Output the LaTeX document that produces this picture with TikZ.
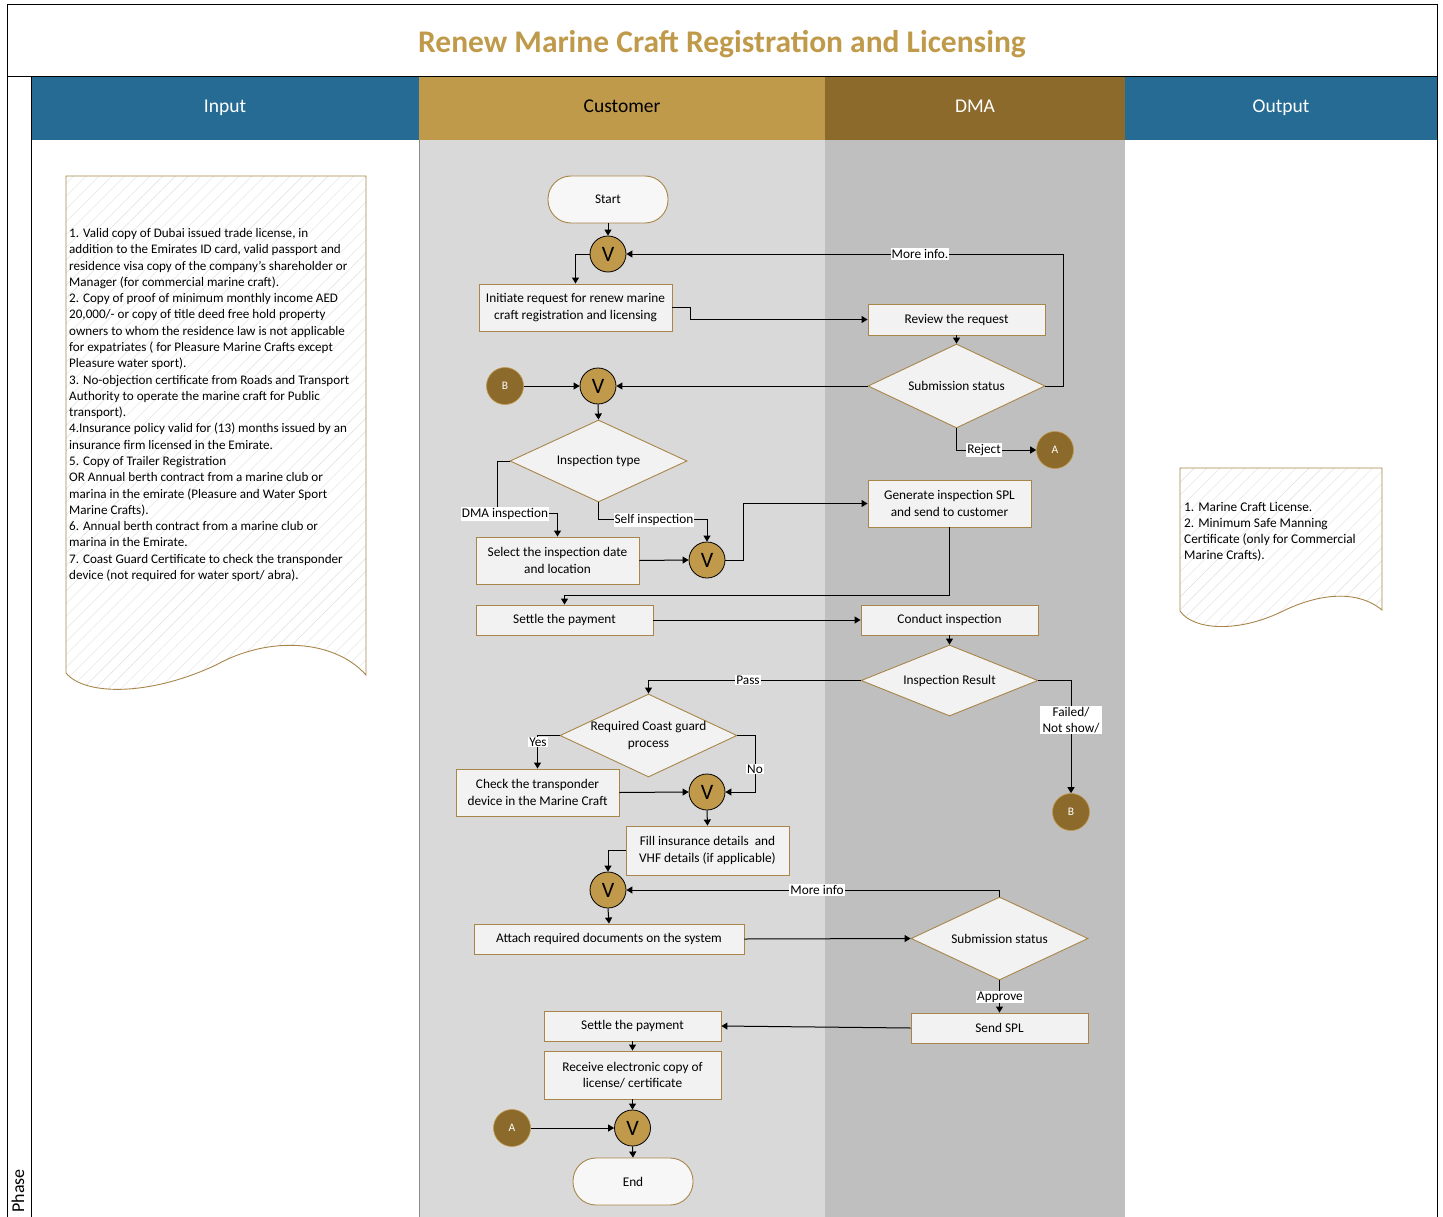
\documentclass[tikz,border=0pt]{standalone}
\usepackage{fontspec}
\setmainfont{Carlito}
\usetikzlibrary{shapes.geometric,arrows.meta,calc,patterns.meta}
\definecolor{hblue}{HTML}{266B94}
\definecolor{hgold}{HTML}{C09A4B}
\definecolor{hbrown}{HTML}{8C6A2C}
\definecolor{lanec}{HTML}{D9D9D9}
\definecolor{laned}{HTML}{BFBFBF}
\definecolor{boxfill}{HTML}{F2F2F2}
\definecolor{boxbd}{HTML}{A8864A}
\definecolor{vfill}{HTML}{C0994A}
\newcommand\nf{\fontsize{13.3}{16.5}\selectfont}
\begin{document}
\begin{tikzpicture}[x=1pt,y=-1pt,
  box/.style={rectangle, draw=boxbd, line width=0.9pt, fill=boxfill, inner sep=0pt, align=center, font=\nf},
  term/.style={rectangle, rounded corners=23pt, draw=boxbd, fill=boxfill!60!white, line width=0.9pt, minimum width=120pt, minimum height=47pt, font=\nf},
  dec/.style={diamond, draw=boxbd, fill=boxfill, line width=0.9pt, inner sep=0pt, minimum width=177pt},
  vnode/.style={circle, draw=black, line width=0.8pt, fill=vfill, minimum size=36pt, inner sep=0pt, font=\fontsize{22}{24}\selectfont},
  conn/.style={circle, draw=hgold, line width=0.6pt, fill=hbrown, minimum size=37pt, inner sep=0pt, text=white, font=\fontsize{11.5}{13}\selectfont},
  lbl/.style={fill=white, inner sep=1pt, font=\nf, align=center},
  arr/.style={-{Triangle[length=6pt,width=7pt]}, line width=1pt},
  doc/.style={draw=boxbd, line width=0.9pt, pattern={Lines[angle=45,distance=9pt,line width=0.4pt]}, pattern color=black!13},
  hdr/.style={font=\fontsize{19.5}{22}\selectfont, text height=13pt, text depth=4pt, inner sep=0pt}
]
\useasboundingbox (0,0) rectangle (1443,1217);
% lanes
\fill[lanec] (419,140) rectangle (825,1217);
\fill[laned] (825,140) rectangle (1125,1217);
\draw[line width=1pt] (7,77) -- (1437,77);
\fill[hblue] (31,77) rectangle (419,140);
\fill[hgold] (419,77) rectangle (825,140);
\fill[hbrown] (825,77) rectangle (1125,140);
\fill[hblue] (1125,77) rectangle (1437,140);
\draw[black!45, line width=0.6pt] (419,140) -- (419,1217);
\draw[line width=1pt] (7,1217) -- (7,5) -- (1437,5) -- (1437,1217);
\draw[line width=1pt] (31,77) -- (31,1217);
% titles
\node[font=\fontsize{31.5}{34}\selectfont\bfseries, text=hgold] (title) at (722,44) {Renew Marine Craft Registration and Licensing};
\node[hdr, text=white] (hin) at (225,108.5) {Input};
\node[hdr, text=black] (hcu) at (622,108.5) {Customer};
\node[hdr, text=white] (hdma) at (975,108.5) {DMA};
\node[hdr, text=white] (hout) at (1281,108.5) {Output};
\node[rotate=90, font=\fontsize{18}{20}\selectfont] (phase) at (18,1191) {Phase};
% documents
\path[doc] (66,176) -- (366,176) -- (366,675) .. controls (335,640) and (270,635) .. (216,665) .. controls (150,696) and (85,696) .. (66,673) -- cycle;
\node[anchor=west, align=left, font=\fontsize{13.1}{16.29}\selectfont, inner sep=0pt] (intext) at (69,405) {1. Valid copy of Dubai issued trade license, in\\
addition to the Emirates ID card, valid passport and\\
residence visa copy of the company’s shareholder or\\
Manager (for commercial marine craft).\\
2. Copy of proof of minimum monthly income AED\\
20,000/- or copy of title deed free hold property\\
owners to whom the residence law is not applicable\\
for expatriates ( for Pleasure Marine Crafts except\\
Pleasure water sport).\\
3. No-objection certificate from Roads and Transport\\
Authority to operate the marine craft for Public\\
transport).\\
4.Insurance policy valid for (13) months issued by an\\
insurance firm licensed in the Emirate.\\
5. Copy of Trailer Registration\\
OR Annual berth contract from a marine club or\\
marina in the emirate (Pleasure and Water Sport\\
Marine Crafts).\\
6. Annual berth contract from a marine club or\\
marina in the Emirate.\\
7. Coast Guard Certificate to check the transponder\\
device (not required for water sport/ abra).};
\path[doc] (1180,468) -- (1382,468) -- (1382,610) .. controls (1355,588) and (1315,595) .. (1281,612) .. controls (1237,633) and (1193,630) .. (1180,611) -- cycle;
\node[anchor=west, align=left, font=\fontsize{13.3}{16.1}\selectfont, inner sep=0pt] (outtext) at (1184,532) {1. Marine Craft License.\\
2. Minimum Safe Manning\\
Certificate (only for Commercial\\
Marine Crafts).};
% nodes
\node[term] (start) at (608,199.5) {Start};
\node[vnode] (v1) at (608,254) {V};
\node[box, minimum width=193pt, minimum height=47pt] (ini) at (575.5,307.5) {Initiate request for renew marine\\craft registration and licensing};
\node[box, minimum width=177pt, minimum height=31pt] (rev) at (956.5,319.5) {Review the request};
\node[dec, minimum height=84pt, label={[font=\nf]center:Submission status}] (sub1) at (956.5,386) {};
\node[conn] (b1) at (505,386) {B};
\node[vnode] (v2) at (598,386) {V};
\node[dec, minimum height=82pt, label={[font=\nf]center:Inspection type}] (it) at (598.5,461) {};
\node[conn] (a1) at (1055,450) {A};
\node[box, minimum width=163pt, minimum height=47pt] (sel) at (557.5,560.5) {Select the inspection date\\and location};
\node[vnode] (v3) at (707,560) {V};
\node[box, minimum width=163pt, minimum height=47pt] (gen) at (949.5,503.5) {Generate inspection SPL\\and send to customer};
\node[box, minimum width=177pt, minimum height=30pt] (set1) at (564.5,620) {Settle the payment};
\node[box, minimum width=177pt, minimum height=30pt] (cond) at (949.5,620) {Conduct inspection};
\node[dec, minimum height=71pt, label={[font=\nf]center:Inspection Result}] (ir) at (949.5,680.5) {};
\node[dec, minimum height=83pt, label={[font=\nf, align=center]center:Required Coast guard\\process}] (cg) at (648.5,735.5) {};
\node[box, minimum width=163pt, minimum height=47pt] (chk) at (537.5,792.5) {Check the transponder\\device in the Marine Craft};
\node[vnode] (v4) at (707,792) {V};
\node[conn] (b2) at (1071,812) {B};
\node[box, minimum width=163pt, minimum height=49pt] (fill) at (707.5,850.5) {Fill insurance details~ and\\VHF details (if applicable)};
\node[vnode] (v5) at (608,890) {V};
\node[box, minimum width=270pt, minimum height=30pt] (att) at (609,939) {Attach required documents on the system};
\node[dec, minimum height=83pt, label={[font=\nf]center:Submission status}] (sub2) at (999.5,938.5) {};
\node[box, minimum width=177pt, minimum height=30pt] (send) at (999.5,1028) {Send SPL};
\node[box, minimum width=177pt, minimum height=30pt] (set2) at (632.5,1026) {Settle the payment};
\node[box, minimum width=177pt, minimum height=48pt] (rec) at (632.5,1075) {Receive electronic copy of\\license/ certificate};
\node[conn] (a2) at (512,1128) {A};
\node[vnode] (v6) at (632.5,1128) {V};
\node[term] (endn) at (633,1181.5) {End};
% connectors
\draw[arr] (start.south) -- (v1.north);
\draw[arr] (v1.west) -| (ini.north);
\draw[arr] (ini.east) -- ++(18,0) |- (rev.west);
\draw[arr] (rev.south) -- (sub1.north);
\draw[arr] (sub1.east) -- ++(18,0) |- (v1.east);
\draw[arr] (sub1.west) -- (v2.east);
\draw[arr] (b1.east) -- (v2.west);
\draw[arr] (sub1.south) |- (a1.west);
\draw[arr] (v2.south) -- (it.north);
\draw[arr] (it.west) -- ++(-12,0) |- ($(sel.north)+(0,-23)$) -- (sel.north);
\draw[arr] (it.south) |- ($(v3.north)+(0,-22)$) -- (v3.north);
\draw[arr] (sel.east) -- (v3.west);
\draw[arr] (v3.east) -- ++(18,0) |- (gen.west);
\draw[arr] (gen.south) |- ($(set1.north)+(0,-9)$) -- (set1.north);
\draw[arr] (set1.east) -- (cond.west);
\draw[arr] (cond.south) -- (ir.north);
\draw[arr] (ir.west) -| (cg.north);
\draw[arr] (ir.east) -| (b2.north);
\draw[arr] (cg.west) -| (chk.north);
\draw[arr] (cg.east) -- ++(18,0) |- (v4.east);
\draw[arr] (chk.east) -- (v4.west);
\draw[arr] (v4.south) -- (fill.north);
\draw[arr] (fill.west) -| (v5.north);
\draw[arr] (v5.south) -- (att.north);
\draw[arr] (att.east) -- (sub2.west);
\draw[arr] (sub2.north) |- (v5.east);
\draw[arr] (sub2.south) -- (send.north);
\draw[arr] (send.west) -- (set2.east);
\draw[arr] (set2.south) -- (rec.north);
\draw[arr] (rec.south) -- (v6.north);
\draw[arr] (a2.east) -- (v6.west);
\draw[arr] (v6.south) -- (endn.north);
% labels
\node[lbl] (lmore1) at (920,254) {More info.};
\node[lbl] (lrej) at (984,450) {Reject};
\node[lbl] (ldma) at (505,514) {DMA inspection};
\node[lbl] (lself) at (654,520) {Self inspection};
\node[lbl] (lpass) at (748,680) {Pass};
\node[lbl, inner xsep=3pt] (lfail) at (1071,720) {Failed/\\Not show/};
\node[lbl] (lyes) at (538,742) {Yes};
\node[lbl] (lno) at (755,769) {No};
\node[lbl] (lmore2) at (817,890) {More info};
\node[lbl] (lappr) at (1000,997) {Approve};
\end{tikzpicture}
\end{document}
